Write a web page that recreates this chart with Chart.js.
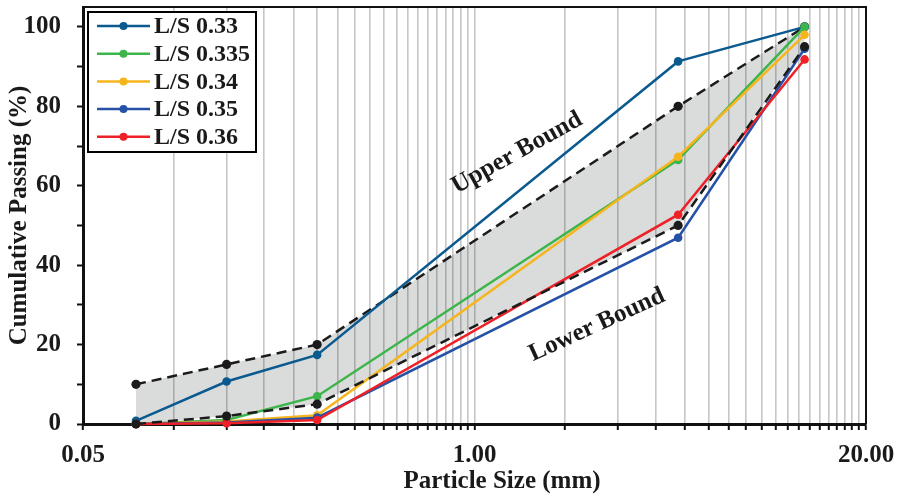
<!DOCTYPE html>
<html lang="en">
<head>
<meta charset="utf-8">
<title>Particle Size Distribution</title>
<script src="https://cdn.jsdelivr.net/npm/chart.js@4.4.1/dist/chart.umd.min.js"></script>
<style>
  * { margin: 0; padding: 0; box-sizing: border-box; }
  body { background: #ffffff; width: 901px; height: 495px; overflow: hidden; }
  canvas { display: block; }
</style>
</head>
<body>
<canvas id="grading" width="901" height="495"></canvas>
<script>
// sieve sizes (mm) and cumulative passing (%)
const sieveSizes = [0.075, 0.15, 0.3, 4.75, 12.5];
const seriesNames = ["L/S 0.33", "L/S 0.335", "L/S 0.34", "L/S 0.35", "L/S 0.36"];
const seriesColors = ["#0b5a8f", "#3cb54a", "#f6b51c", "#2552a6", "#ed2127"];
const ls033 = [0.8, 10.7, 17.4, 91.3, 100];
const ls0335 = [0, 1.0, 7.0, 66.5, 100];
const ls034 = [0, 0.6, 2.2, 67.3, 98];
const ls035 = [0, 0.4, 1.6, 46.9, 94.5];
const ls036 = [0, 0.2, 1.0, 52.7, 91.8];
const upperBound = [10, 15, 20, 80, 100];
const lowerBound = [0, 2, 5, 50, 95];

// axis ticks
const xTicks = [0.05, 0.1, 0.15, 0.2, 0.25, 0.3, 0.35, 0.4, 0.45, 0.5, 0.55, 0.6, 0.65, 0.7, 0.75,
  0.8, 0.85, 0.9, 0.95, 1, 2, 3, 4, 5, 6, 7, 8, 9, 10, 11, 12, 13, 14, 15, 16, 17, 18, 19, 20];
const xLabelled = [0.05, 1, 20];
const yTicks = [0, 10, 20, 30, 40, 50, 60, 70, 80, 90, 100];
const yLabelled = [0, 20, 40, 60, 80, 100];

const FONT = "'Liberation Serif', 'Times New Roman', serif";
const toPoints = (vals) => sieveSizes.map((x, i) => ({ x: x, y: vals[i] }));

const seriesValues = [ls033, ls0335, ls034, ls035, ls036];
const drawOrder = [5, 4, 3, 2, 1];

const datasets = [
  {
    label: "Upper Bound",
    data: toPoints(upperBound),
    borderColor: "#1b1b1b",
    backgroundColor: "rgba(10, 12, 16, 0.15)",
    pointBackgroundColor: "#1b1b1b",
    pointBorderWidth: 0,
    borderDash: [10, 6],
    borderWidth: 2.5,
    pointRadius: 4.6,
    fill: "+1",
    order: 6,
    clip: false
  },
  {
    label: "Lower Bound",
    data: toPoints(lowerBound),
    borderColor: "#1b1b1b",
    pointBackgroundColor: "#1b1b1b",
    pointBorderWidth: 0,
    borderDash: [10, 6],
    borderWidth: 2.5,
    pointRadius: 4.6,
    fill: false,
    order: 0,
    clip: false
  }
];
seriesNames.forEach((name, i) => {
  datasets.push({
    label: name,
    data: toPoints(seriesValues[i]),
    borderColor: seriesColors[i],
    backgroundColor: seriesColors[i],
    pointBackgroundColor: seriesColors[i],
    pointBorderColor: seriesColors[i],
    borderWidth: 2.5,
    pointRadius: 4.3,
    pointBorderWidth: 0,
    fill: false,
    order: drawOrder[i],
    clip: false
  });
});

// frame, legend box and text notes
const decorations = {
  id: "decorations",
  afterDraw(chart) {
    const ctx = chart.ctx;
    const a = chart.chartArea;
    ctx.save();
    // top / right frame
    ctx.strokeStyle = "#111";
    ctx.lineWidth = 2;
    ctx.beginPath();
    ctx.moveTo(a.left, a.top);
    ctx.lineTo(a.right, a.top);
    ctx.lineTo(a.right, a.bottom);
    ctx.stroke();

    // legend
    ctx.fillStyle = "#fff";
    ctx.fillRect(88, 12, 168, 140);
    ctx.lineWidth = 2;
    ctx.strokeStyle = "#000";
    ctx.strokeRect(88, 12, 168, 140);
    ctx.font = "bold 24px " + FONT;
    ctx.textBaseline = "middle";
    ctx.textAlign = "left";
    seriesNames.forEach((name, i) => {
      const y = 26 + i * 27.7;
      ctx.strokeStyle = seriesColors[i];
      ctx.lineWidth = 2.5;
      ctx.beginPath();
      ctx.moveTo(97, y);
      ctx.lineTo(150, y);
      ctx.stroke();
      ctx.fillStyle = seriesColors[i];
      ctx.beginPath();
      ctx.arc(123.5, y, 4, 0, Math.PI * 2);
      ctx.fill();
      ctx.fillStyle = "#1a1a1a";
      ctx.fillText(name, 154, y + 1);
    });

    // notes along the bounds
    ctx.fillStyle = "#1a1a1a";
    ctx.font = "bold 25px " + FONT;
    ctx.textAlign = "center";
    ctx.save();
    ctx.translate(517, 153);
    ctx.rotate(-29 * Math.PI / 180);
    ctx.fillText("Upper Bound", 0, 0);
    ctx.restore();
    ctx.save();
    ctx.translate(597, 325);
    ctx.rotate(-24.5 * Math.PI / 180);
    ctx.fillText("Lower Bound", 0, 0);
    ctx.restore();

    // axis titles
    ctx.save();
    ctx.translate(20, (a.top + a.bottom) / 2);
    ctx.rotate(-Math.PI / 2);
    ctx.fillText("Cumulative Passing (%)", 0, 0);
    ctx.restore();
    ctx.fillText("Particle Size (mm)", 502, 482);
    ctx.restore();
  }
};

new Chart(document.getElementById("grading"), {
  type: "line",
  data: { datasets: datasets },
  plugins: [decorations],
  options: {
    responsive: false,
    animation: false,
    layout: { padding: { top: 7, right: 35, left: 0, bottom: 0 } },
    plugins: {
      legend: { display: false },
      tooltip: { enabled: false }
    },
    elements: { line: { tension: 0 } },
    scales: {
      x: {
        type: "logarithmic",
        min: 0.05,
        max: 20,
        afterBuildTicks: (scale) => {
          scale.ticks = xTicks.map((v) => ({ value: v }));
        },
        afterFit: (scale) => {
          scale.height = 71;
          scale.paddingLeft = 0;
          scale.paddingRight = 0;
        },
        border: { display: true, color: "#111", width: 3 },
        grid: {
          color: "#c6c6c6",
          lineWidth: 1.6,
          drawTicks: true,
          tickLength: 6,
          tickColor: "#111",
          tickWidth: 2
        },
        ticks: {
          autoSkip: false,
          maxRotation: 0,
          padding: 11,
          color: "#1a1a1a",
          font: { family: FONT, size: 25, weight: "bold" },
          callback: (v) => (xLabelled.includes(v) ? Number(v).toFixed(2) : "")
        }
      },
      y: {
        min: 0,
        max: 105,
        afterBuildTicks: (scale) => {
          scale.ticks = yTicks.map((v) => ({ value: v }));
        },
        afterFit: (scale) => {
          scale.width = 83;
          scale.paddingTop = 0;
          scale.paddingBottom = 0;
        },
        border: { display: true, color: "#111", width: 3 },
        grid: {
          drawOnChartArea: false,
          drawTicks: true,
          tickLength: 6,
          tickColor: "#111",
          tickWidth: 2
        },
        ticks: {
          padding: 16,
          color: "#1a1a1a",
          font: { family: FONT, size: 25, weight: "bold" },
          callback: (v) => (yLabelled.includes(v) ? String(v) : "")
        }
      }
    }
  }
});
</script>
</body>
</html>
